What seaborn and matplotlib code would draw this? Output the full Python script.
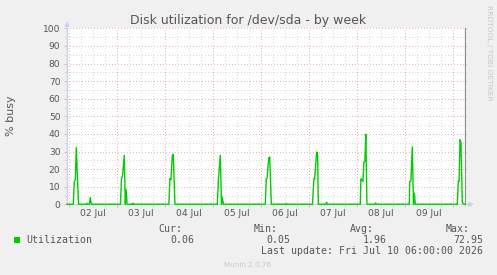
import numpy as np
import pandas as pd
import matplotlib
matplotlib.use("Agg")
import matplotlib.pyplot as plt
import matplotlib.dates as mdates
import matplotlib.transforms as mtransforms
from matplotlib.patches import Rectangle, Polygon
from matplotlib.lines import Line2D
from matplotlib.ticker import MultipleLocator, NullFormatter
import seaborn as sns

# ---------------- data ----------------
title = "Disk utilization for /dev/sda - by week"
y_label = "% busy"
series_name = "Utilization"

day_dates = ["2026-07-01", "2026-07-02", "2026-07-03", "2026-07-04", "2026-07-05",
             "2026-07-06", "2026-07-07", "2026-07-08", "2026-07-09", "2026-07-10"]
# hour-of-day of each sample and its % busy value, one list per day
day_hours = [
    [22.85],
    [2.0, 2.5, 3.0, 3.5, 4.6, 8.5, 8.85, 9.2, 10.0, 10.5, 11.0],
    [1.6, 2.1, 2.6, 3.5, 4.0, 4.4, 4.9, 7.3, 7.5, 7.8, 8.1, 8.4],
    [1.8, 2.3, 2.8, 3.5, 4.0, 4.8],
    [2.0, 2.6, 3.5, 4.1, 4.5, 5.1],
    [2.0, 2.5, 2.9, 3.7, 4.2, 5.0, 12.2, 12.5, 12.8],
    [1.6, 2.3, 2.7, 3.65, 4.15, 4.5, 8.3, 8.65, 9.0],
    [1.5, 1.8, 2.8, 3.3, 3.8, 4.25, 4.8, 8.8, 9.15, 9.5],
    [2.0, 2.2, 2.8, 3.5, 4.1, 4.5, 5.0],
    [2.0, 2.5, 2.9, 3.35, 3.85, 4.5, 4.85, 5.5, 6.0],
]
day_values = [
    [0.05],
    [0.05, 12.7, 14.0, 32.2, 0.05, 0.05, 0.6, 0.05, 0.05, 3.8, 0.05],
    [0.05, 14.6, 16.0, 27.8, 0.05, 8.5, 0.05, 0.05, 0.5, 0.05, 0.5, 0.05],
    [0.05, 14.6, 14.0, 27.4, 28.4, 0.05],
    [0.05, 14.6, 27.8, 0.05, 4.0, 0.05],
    [0.05, 14.4, 15.0, 26.3, 26.9, 0.05, 0.05, 0.5, 0.05],
    [0.05, 14.6, 14.6, 29.7, 29.0, 0.05, 0.05, 1.2, 0.05],
    [0.05, 14.6, 13.0, 24.0, 24.5, 39.8, 0.05, 0.05, 0.8, 0.05],
    [0.05, 13.0, 13.2, 32.6, 0.05, 6.2, 0.05],
    [0.05, 13.2, 13.0, 36.7, 35.0, 1.0, 0.5, 0.06, 0.06],
]

x_tick_dates = ["2026-07-02", "2026-07-03", "2026-07-04", "2026-07-05",
                "2026-07-06", "2026-07-07", "2026-07-08", "2026-07-09"]
x_tick_labels = ["02 Jul", "03 Jul", "04 Jul", "05 Jul", "06 Jul", "07 Jul", "08 Jul", "09 Jul"]

stat_names = ["Cur:", "Min:", "Avg:", "Max:"]
stat_values = ["0.06", "0.05", "1.96", "72.95"]
last_update = "Fri Jul 10 06:00:00 2026"
range_start = "2026-07-01 22:51"
range_end = "2026-07-10 06:51"
version_text = "Munin 2.0.76"
side_text = "RRDTOOL / TOBI OETIKER"

# ---------------- build table ----------------
times, vals = [], []
for d, hrs, vs in zip(day_dates, day_hours, day_values):
    base = pd.Timestamp(d)
    for h, v in zip(hrs, vs):
        times.append(base + pd.Timedelta(hours=h))
        vals.append(v)
df = pd.DataFrame({"time": times, "util": vals})

# ---------------- figure ----------------
W, H = 497, 275
def fx(x): return x / W
def fy(y): return 1 - y / H

fig = plt.figure(figsize=(W / 100, H / 100), dpi=100, facecolor="#F0F0F0")
ax = fig.add_axes([fx(67), fy(204.3), 400 / W, 176 / H])
ax.set_facecolor("white")

txt = "#555555"
red = "#EDB4B4"
gray = "#DADADA"
axis_c = "#C9D0F5"

sns.lineplot(data=df, x="time", y="util", ax=ax, color="#00CC00", lw=1.0,
             zorder=4, legend=False, clip_on=False)

ax.set_xlim(pd.Timestamp(range_start), pd.Timestamp(range_end))
ax.set_ylim(0, 100)
ax.set_xlabel("")
ax.set_ylabel("")

ax.xaxis.set_major_locator(mdates.DayLocator())
ax.xaxis.set_minor_locator(mdates.HourLocator(byhour=[6, 12, 18]))
ax.xaxis.set_major_formatter(NullFormatter())
ax.xaxis.set_minor_formatter(NullFormatter())
ax.yaxis.set_major_locator(MultipleLocator(10))
ax.yaxis.set_minor_locator(MultipleLocator(5))
ax.yaxis.set_minor_formatter(NullFormatter())

ax.grid(which="major", color=red, ls=(0, (1, 2.2)), lw=0.72, antialiased=False)
ax.grid(which="minor", color=gray, ls=(0, (1, 2.2)), lw=0.72, antialiased=False)
ax.set_axisbelow(True)

ax.tick_params(which="major", direction="out", length=2.2, width=0.72, color=red)
ax.tick_params(which="minor", direction="out", length=2.2, width=0.72, color=gray)
ax.tick_params(axis="y", which="major", labelsize=6.6, labelcolor=txt, pad=2.5)

for s in ["top", "right"]:
    ax.spines[s].set_visible(False)
for s in ["left", "bottom"]:
    ax.spines[s].set_color(axis_c)
    ax.spines[s].set_linewidth(0.9)
    ax.spines[s].set_zorder(2)

# day labels centred at noon
blend = mtransforms.blended_transform_factory(ax.transData, ax.transAxes)
for d, lab in zip(x_tick_dates, x_tick_labels):
    ax.text(pd.Timestamp(d) + pd.Timedelta(hours=12), -(216 - 204.3) / 176, lab,
            transform=blend, ha="center", va="baseline", fontsize=6.6, color=txt)

# last-update rule
ax.axvline(pd.Timestamp("2026-07-10 06:00"), color="#8C8C8C", lw=0.9, zorder=3)

# axis arrows (drawn under the axes content)
fig.add_artist(Line2D([fx(67), fx(67)], [fy(204.3), fy(24)], transform=fig.transFigure,
                      color=axis_c, lw=0.9, zorder=-1))
fig.add_artist(Line2D([fx(466), fx(470)], [fy(204.3), fy(204.3)], transform=fig.transFigure,
                      color=axis_c, lw=0.9, zorder=-1))
fig.add_artist(Polygon([[fx(64.3), fy(27)], [fx(69.7), fy(27)], [fx(67), fy(21)]],
                       closed=True, transform=fig.transFigure, color=axis_c, lw=0))
fig.add_artist(Polygon([[fx(468.5), fy(201.5)], [fx(468.5), fy(207)], [fx(474), fy(204.3)]],
                       closed=True, transform=fig.transFigure, color=axis_c, lw=0))

# texts
fig.text(fx(248), fy(24), title, ha="center", va="baseline", fontsize=9.0, color=txt)
fig.text(fx(11), fy(115.5), y_label, rotation=90, ha="center", va="center",
         fontsize=8, color=txt)
fig.text(fx(488.5), fy(5), side_text, rotation=270, ha="center", va="top",
         fontsize=5.4, color="#C8C8C8")

mono = "DejaVu Sans Mono"
fs = 7.1
stat_name_right = [182, 278, 374, 470]
stat_val_right = [194, 290, 387, 483]
for n, xr in zip(stat_names, stat_name_right):
    fig.text(fx(xr), fy(232), n, ha="right", va="baseline", family=mono, fontsize=fs, color=txt)
for v, xr in zip(stat_values, stat_val_right):
    fig.text(fx(xr), fy(243), v, ha="right", va="baseline", family=mono, fontsize=fs, color=txt)
fig.add_artist(Rectangle((fx(14), fy(243)), 6 / W, 6 / H, transform=fig.transFigure,
                         color="#00CC00", lw=0))
fig.text(fx(26), fy(243), series_name, ha="left", va="baseline", family=mono, fontsize=fs, color=txt)
fig.text(fx(483), fy(254), "Last update: " + last_update, ha="right", va="baseline",
         family=mono, fontsize=fs, color=txt)
fig.text(fx(248), fy(267), version_text, ha="center", va="baseline", fontsize=5.2, color="#C8C8C8")

fig.savefig("out.png", dpi=100, facecolor=fig.get_facecolor())
